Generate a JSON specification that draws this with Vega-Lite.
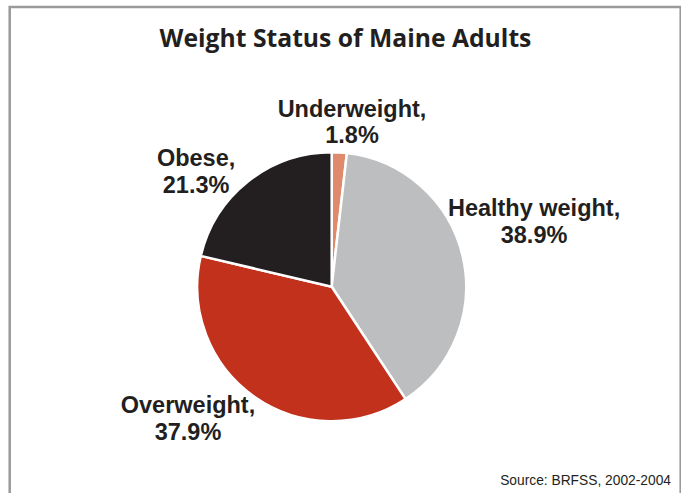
{
  "$schema": "https://vega.github.io/schema/vega-lite/v6.json",
  "width": 671,
  "height": 520,
  "autosize": "none",
  "padding": {"left": 9.7, "top": 7, "right": 0, "bottom": 0},
  "background": "white",
  "view": {"stroke": "#9a9a9a", "strokeWidth": 2.5},
  "config": {
    "view": {"stroke": "#9a9a9a", "strokeWidth": 2.5}
  },
  "data": {
    "values": [
      {"status": "Underweight", "pct": 1.8, "slice": 1, "label": "Underweight,\n1.8%"},
      {"status": "Healthy weight", "pct": 38.9, "slice": 2, "label": "Healthy weight,\n38.9%"},
      {"status": "Overweight", "pct": 37.9, "slice": 3, "label": "Overweight,\n37.9%"},
      {"status": "Obese", "pct": 21.3, "slice": 4, "label": "Obese,\n21.3%"}
    ]
  },
  "encoding": {
    "theta": {"field": "pct", "type": "quantitative", "stack": true},
    "order": {"field": "slice", "type": "quantitative"}
  },
  "layer": [
    {
      "mark": {"type": "arc", "x": 322, "y": 279.7, "outerRadius": 134.5, "stroke": "white", "strokeWidth": 2.5},
      "encoding": {
        "color": {
          "field": "status",
          "type": "nominal",
          "scale": {
            "domain": ["Underweight", "Healthy weight", "Overweight", "Obese"],
            "range": ["#E08A6D", "#BCBEC0", "#C1311C", "#231F20"]
          },
          "legend": null
        }
      }
    },
    {
      "mark": {
        "type": "text",
        "x": 322,
        "y": 279.7,
        "radius": 170,
        "font": "Liberation Sans",
        "fontWeight": "bold",
        "fontSize": 23.5,
        "lineHeight": 26.5,
        "lineBreak": "\n",
        "align": "center",
        "baseline": "alphabetic",
        "color": "#231F20",
        "dx": {"expr": "datum.status === 'Underweight' ? 10.7 : datum.status === 'Healthy weight' ? 37 : datum.status === 'Overweight' ? -46.3 : -30.1"},
        "dy": {"expr": "datum.status === 'Underweight' ? 0 : datum.status === 'Healthy weight' ? -31.2 : datum.status === 'Overweight' ? -13 : 13"}
      },
      "encoding": {
        "text": {"field": "label", "type": "nominal"}
      }
    },
    {
      "data": {"values": [{"title": "Weight Status of Maine Adults"}]},
      "mark": {
        "type": "text",
        "x": 335.8,
        "y": 39.7,
        "align": "center",
        "baseline": "alphabetic",
        "font": "Open Sans",
        "fontWeight": "bold",
        "fontSize": 24.7,
        "color": "#231F20"
      },
      "encoding": {
        "text": {"field": "title", "type": "nominal"},
        "theta": null,
        "order": null
      }
    },
    {
      "data": {"values": [{"source": "Source: BRFSS, 2002-2004"}]},
      "mark": {
        "type": "text",
        "x": 661.3,
        "y": 478,
        "align": "right",
        "baseline": "alphabetic",
        "font": "Liberation Sans",
        "fontSize": 13.8,
        "color": "#231F20"
      },
      "encoding": {
        "text": {"field": "source", "type": "nominal"},
        "theta": null,
        "order": null
      }
    }
  ]
}
